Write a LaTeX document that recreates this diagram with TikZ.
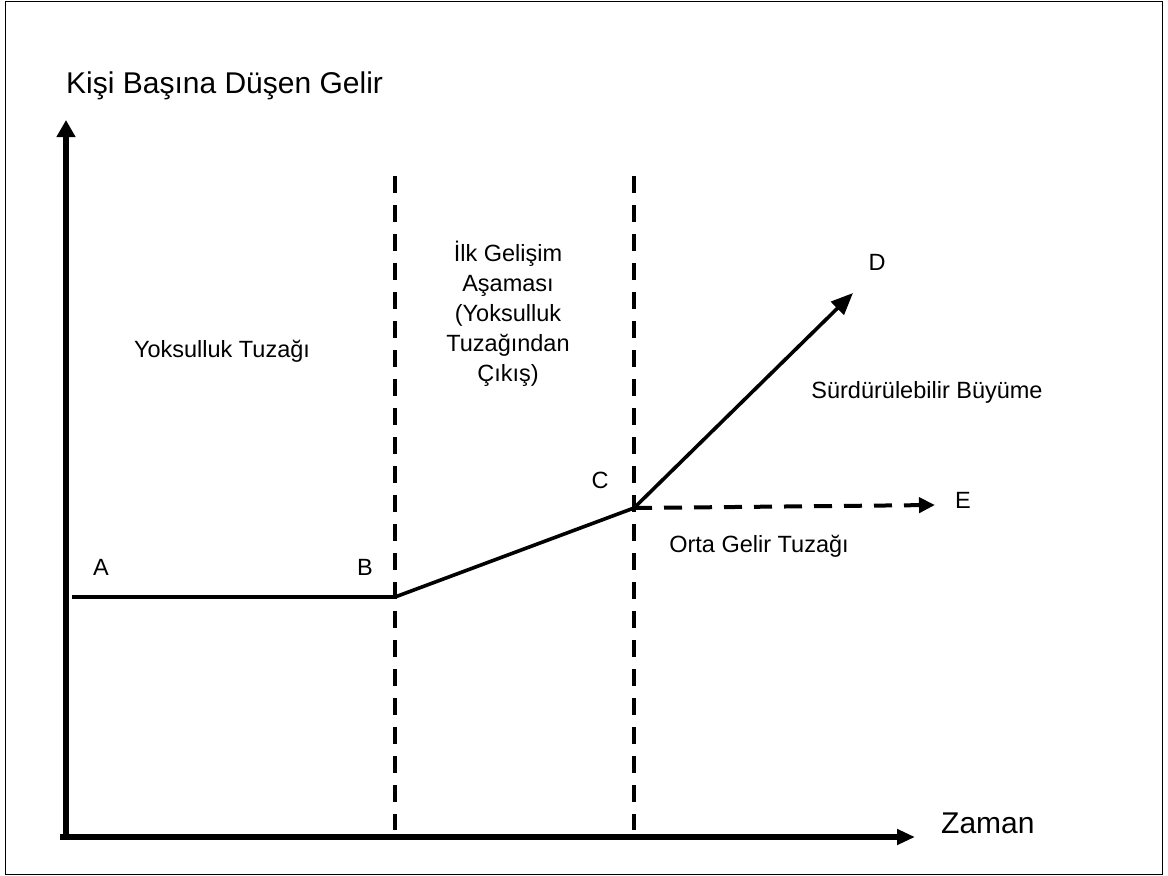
\documentclass[tikz,border=0pt]{standalone}
\usepackage{fontspec}
\setmainfont{Liberation Sans}
\usetikzlibrary{arrows.meta}
\begin{document}
\begin{tikzpicture}[x=1pt,y=-1pt,
  axis/.style={line width=6pt},
  curve/.style={line width=3.6pt},
  guide/.style={line width=4pt, dash pattern=on 17pt off 12pt},
  lbl/.style={font=\fontsize{23.5}{30}\selectfont, inner sep=0pt},
  big/.style={font=\fontsize{30}{35}\selectfont, inner sep=0pt}]
\useasboundingbox (0,0) rectangle (1168,876);
\draw[line width=1.3pt] (5.5,1.5) rectangle (1162.5,874.5);
% axes
\coordinate (ybot) at (66,840);
\coordinate (ytop) at (66,120);
\coordinate (xleft) at (60,837);
\coordinate (xright) at (915,837);
\draw[axis, -{Triangle[length=17pt,width=18pt]}] (ybot) -- (ytop);
\draw[axis, -{Triangle[length=18pt,width=15pt]}] (xleft) -- (xright);
% guide lines
\coordinate (g1t) at (395,176);
\coordinate (g1b) at (395,830);
\coordinate (g2t) at (634,176);
\coordinate (g2b) at (634,830);
\draw[guide] (g1t) -- (g1b);
\draw[guide] (g2t) -- (g2b);
% path
\coordinate (pA) at (72,597);
\coordinate (pB) at (395,597);
\coordinate (pC) at (634,508);
\coordinate (pD) at (853,293);
\coordinate (pE) at (935,505);
\draw[curve, line join=round] (pA) -- (pB) -- (pC);
\draw[curve, -{Triangle[length=22pt,width=18pt]}] (pC) -- (pD);
\draw[line width=4pt, dash pattern=on 18pt off 12pt, -{Triangle[length=16pt,width=15pt]}] (pC) -- (pE);
% labels
\node[big, anchor=base west] (title) at (66,93) {Kişi Başına Düşen Gelir};
\node[big, anchor=base west] (zaman) at (941,833) {Zaman};
\node[lbl, anchor=base] (lA) at (101,575) {A};
\node[lbl, anchor=base] (lB) at (365,575) {B};
\node[lbl, anchor=base] (lC) at (600,488) {C};
\node[lbl, anchor=base] (lD) at (877,270) {D};
\node[lbl, anchor=base] (lE) at (963,508) {E};
\node[lbl, anchor=base] (yt) at (222,357) {Yoksulluk Tuzağı};
\node[lbl, align=center] (ilk) at (508,314) {İlk Gelişim\\Aşaması\\(Yoksulluk\\Tuzağından\\Çıkış)};
\node[lbl, anchor=base] (sb) at (927,398) {Sürdürülebilir Büyüme};
\node[lbl, anchor=base] (ogt) at (759,552) {Orta Gelir Tuzağı};
\end{tikzpicture}
\end{document}
